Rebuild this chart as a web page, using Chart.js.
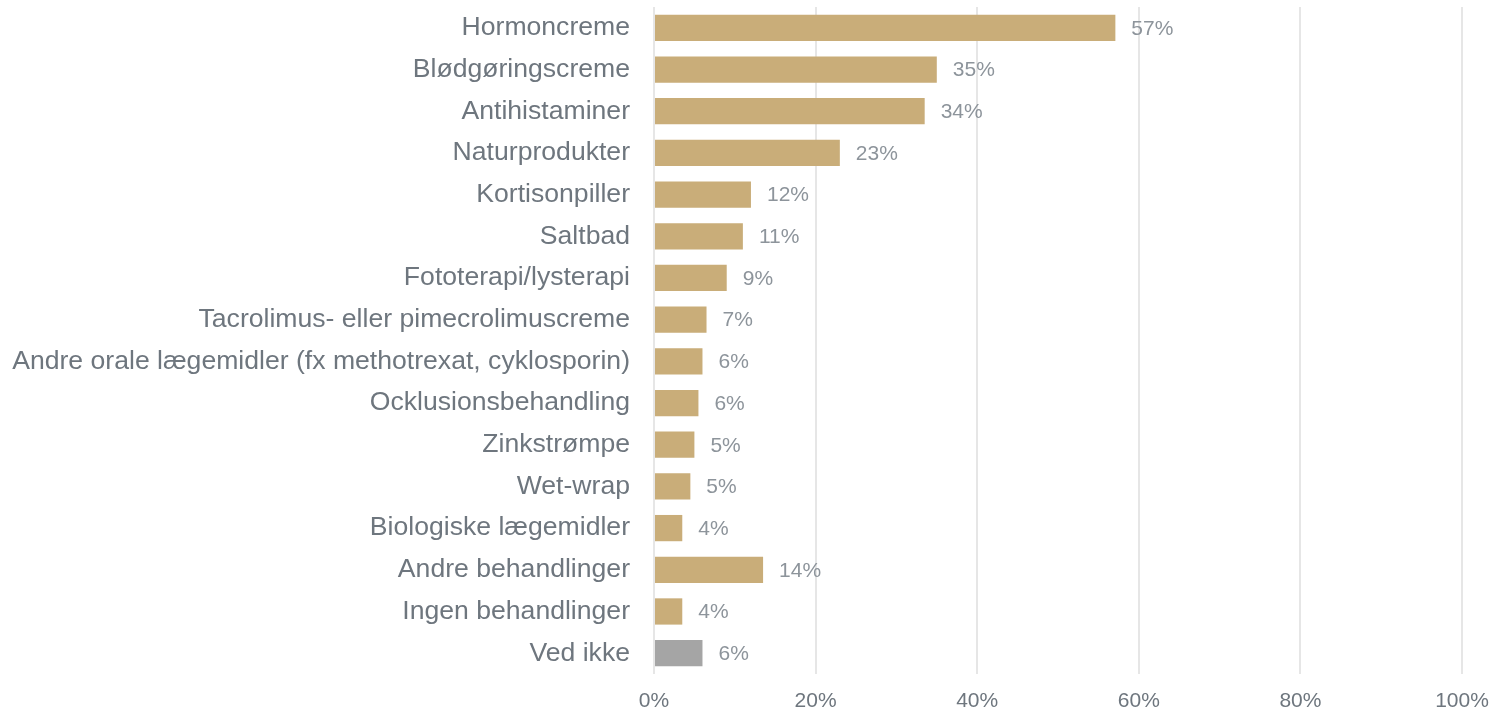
<!DOCTYPE html>
<html>
<head>
<meta charset="utf-8">
<script src="https://cdn.jsdelivr.net/npm/chart.js@4/dist/chart.umd.min.js"></script>
<style>
html,body{margin:0;padding:0;background:#fff;}
#wrap{width:1492px;height:709px;position:relative;}
</style>
</head>
<body>
<div id="wrap"><canvas id="c" width="1492" height="709"></canvas></div>
<script>
const categories = [
  "Hormoncreme",
  "Blødgøringscreme",
  "Antihistaminer",
  "Naturprodukter",
  "Kortisonpiller",
  "Saltbad",
  "Fototerapi/lysterapi",
  "Tacrolimus- eller pimecrolimuscreme",
  "Andre orale lægemidler (fx methotrexat, cyklosporin)",
  "Ocklusionsbehandling",
  "Zinkstrømpe",
  "Wet-wrap",
  "Biologiske lægemidler",
  "Andre behandlinger",
  "Ingen behandlinger",
  "Ved ikke"
];
const values = [57.1, 35, 33.5, 23, 12, 11, 9, 6.5, 6, 5.5, 5, 4.5, 3.5, 13.5, 3.5, 6];
const barColors = ["#C9AD79","#C9AD79","#C9AD79","#C9AD79","#C9AD79","#C9AD79","#C9AD79","#C9AD79","#C9AD79","#C9AD79","#C9AD79","#C9AD79","#C9AD79","#C9AD79","#C9AD79","#A5A5A5"];
const xTicks = [0, 20, 40, 60, 80, 100];

const valueLabels = {
  id: 'valueLabels',
  afterDatasetsDraw(chart) {
    const ctx = chart.ctx;
    const meta = chart.getDatasetMeta(0);
    ctx.save();
    ctx.font = '21px "Liberation Sans", Arial, sans-serif';
    ctx.fillStyle = '#8D949B';
    ctx.textAlign = 'left';
    ctx.textBaseline = 'middle';
    meta.data.forEach((bar, i) => {
      ctx.fillText(Math.round(values[i]) + '%', bar.x + 16, bar.y + 1);
    });
    ctx.restore();
  }
};

new Chart(document.getElementById('c'), {
  type: 'bar',
  data: {
    labels: categories,
    datasets: [{
      data: values,
      backgroundColor: barColors,
      borderWidth: 0,
      categoryPercentage: 0.63,
      barPercentage: 1
    }]
  },
  options: {
    indexAxis: 'y',
    responsive: false,
    animation: false,
    layout: { padding: { top: 7, right: 30, left: 0, bottom: 0 } },
    plugins: { legend: { display: false }, tooltip: { enabled: false } },
    scales: {
      x: {
        min: 0, max: 100,
        afterBuildTicks(scale) { scale.ticks = xTicks.map(v => ({ value: v })); },
        afterFit(scale) { scale.height = 35; scale.paddingLeft = 0; scale.paddingRight = 0; },
        grid: { color: '#E6E6E6', lineWidth: 2, drawTicks: false },
        border: { display: false },
        ticks: {
          padding: 15,
          color: '#6E767E',
          font: { family: '"Liberation Sans", Arial, sans-serif', size: 21 },
          callback: v => v + '%'
        }
      },
      y: {
        afterFit(scale) { scale.width = 654; scale.paddingTop = 0; scale.paddingBottom = 0; },
        grid: { display: false, drawTicks: false },
        border: { display: false },
        ticks: {
          padding: 24,
          color: '#6E767E',
          font: { family: '"Liberation Sans", Arial, sans-serif', size: 26.6 },
          autoSkip: false
        }
      }
    }
  },
  plugins: [valueLabels]
});
</script>
</body>
</html>
